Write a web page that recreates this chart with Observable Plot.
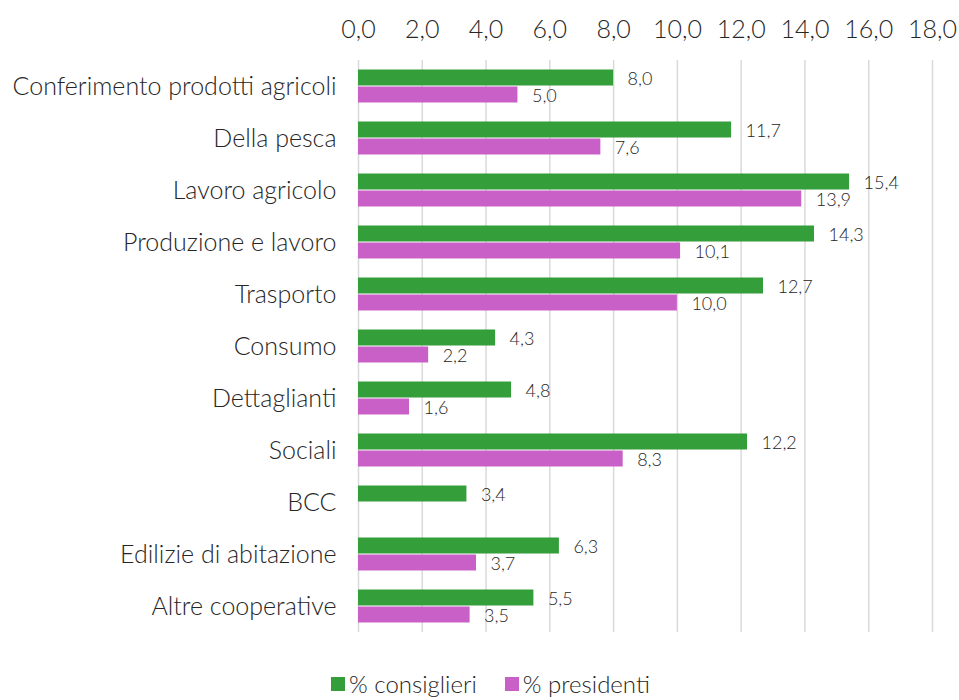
<!DOCTYPE html>
<html>
<head>
<meta charset="utf-8">
<script src="https://cdn.jsdelivr.net/npm/d3@7"></script>
<script src="https://cdn.jsdelivr.net/npm/@observablehq/plot@0.6"></script>
<style>
  html, body { margin: 0; padding: 0; background: #fff; }
  body { width: 959px; height: 700px; overflow: hidden; font-family: Lato, "Open Sans", sans-serif; font-weight: 300; color: #262626; }
  #legend { display: flex; justify-content: center; align-items: center; height: 45px; font-size: 24px; padding-left: 22px; padding-top: 12px; box-sizing: border-box; }
  .item { display: flex; align-items: center; margin: 0 14px; }
  .sw { width: 14px; height: 14px; margin-right: 4px; display: inline-block; }
</style>
</head>
<body>
<div id="chart"></div>
<div id="legend"></div>
<script>
const categories = [
  "Conferimento prodotti agricoli",
  "Della pesca",
  "Lavoro agricolo",
  "Produzione e lavoro",
  "Trasporto",
  "Consumo",
  "Dettaglianti",
  "Sociali",
  "BCC",
  "Edilizie di abitazione",
  "Altre cooperative"
];
const consiglieri = [8.0, 11.7, 15.4, 14.3, 12.7, 4.3, 4.8, 12.2, 3.4, 6.3, 5.5];
const presidenti  = [5.0, 7.6, 13.9, 10.1, 10.0, 2.2, 1.6, 8.3, null, 3.7, 3.5];
const seriesNames = ["% consiglieri", "% presidenti"];
const seriesColors = ["#349e3b", "#c960c8"];
const xTicks = [0, 2, 4, 6, 8, 10, 12, 14, 16, 18];

const fmt = v => v.toFixed(1).replace(".", ",");

const rows = [];
categories.forEach((c, i) => {
  [consiglieri, presidenti].forEach((arr, j) => {
    if (arr[i] != null) rows.push({category: c, series: seriesNames[j], value: arr[i]});
  });
});

const chart = Plot.plot({
  width: 959,
  height: 655,
  marginTop: 56,
  marginBottom: 19,
  marginLeft: 358,
  marginRight: 27,
  style: {fontFamily: "Lato, 'Open Sans', sans-serif", fontSize: "25px", fontWeight: 300, color: "#262626", background: "#fff"},
  x: {domain: [0, 18], axis: "top", ticks: xTicks, tickFormat: fmt, tickSize: 0, tickPadding: 23, label: null},
  fy: {domain: categories, padding: 0, axis: "left", label: null, tickSize: 0, tickPadding: 22},
  y: {domain: seriesNames, paddingInner: 0, paddingOuter: 0.5, axis: null},
  color: {domain: seriesNames, range: seriesColors},
  marks: [
    Plot.ruleX(xTicks, {stroke: "#d9d9d9", strokeWidth: 1.5}),
    Plot.barX(rows, {x: "value", y: "series", fy: "category", fill: "series", insetTop: 0.5, insetBottom: 0.5}),
    Plot.text(rows, {x: "value", y: "series", fy: "category", text: d => fmt(d.value), dx: 14, dy: 1, textAnchor: "start", fontSize: 18, fill: "#262626"})
  ]
});
document.getElementById("chart").appendChild(chart);

const legend = document.getElementById("legend");
seriesNames.forEach((s, i) => {
  const it = document.createElement("div");
  it.className = "item";
  const sw = document.createElement("span");
  sw.className = "sw";
  sw.style.background = seriesColors[i];
  it.appendChild(sw);
  it.appendChild(document.createTextNode(s));
  legend.appendChild(it);
});
</script>
</body>
</html>
